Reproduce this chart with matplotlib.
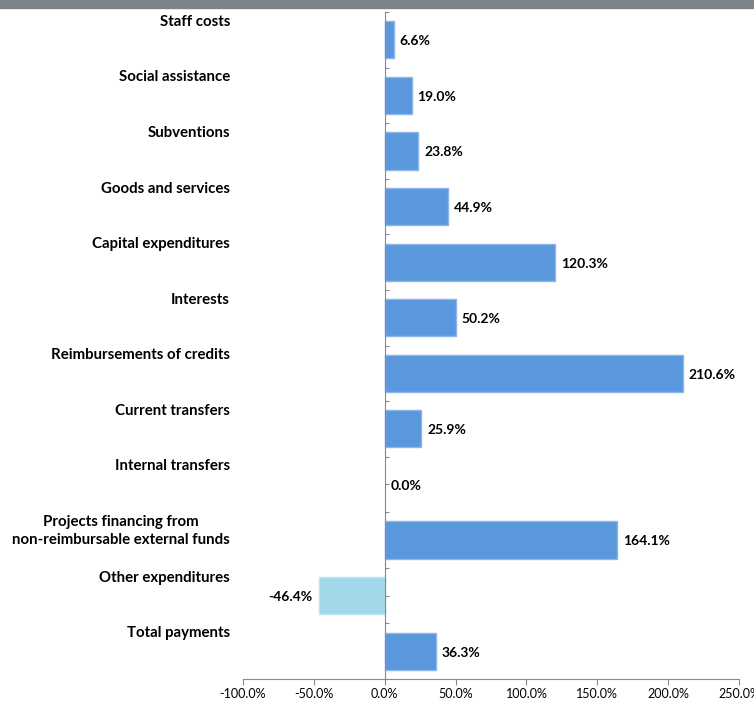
import numpy as np
import matplotlib
matplotlib.use("Agg")
import matplotlib.pyplot as plt
import matplotlib.transforms as mtransforms
from matplotlib.patches import Rectangle

plt.rcParams["font.family"] = ["Lato", "DejaVu Sans"]

categories = ["Staff costs", "Social assistance", "Subventions", "Goods and services",
              "Capital expenditures", "Interests", "Reimbursements of credits",
              "Current transfers", "Internal transfers",
              "Projects financing from\nnon-reimbursable external funds",
              "Other expenditures", "Total payments"]
values = [6.6, 19.0, 23.8, 44.9, 120.3, 50.2, 210.6, 25.9, 0.0, 164.1, -46.4, 36.3]
xticks = [-100, -50, 0, 50, 100, 150, 200, 250]

BLUE = "#5B97DD"
LIGHT = "#A2D8EA"

fig = plt.figure(figsize=(7.54, 7.01), dpi=100)
ax = fig.add_axes([243 / 754, 1 - 679 / 701, (739 - 243) / 754, (679 - 12) / 701])

# title band cut off at the top
fig.patches.append(Rectangle((0, 1 - 8 / 701), 1, 8 / 701, transform=fig.transFigure,
                             color="#7B838B", zorder=0))

n = len(categories)
ypos = np.arange(n) + 0.5
colors = [LIGHT if v < 0 else BLUE for v in values]
edges = ["none" if v == 0 else ("#BCE4F2" if v < 0 else "#8AB6EA") for v in values]
ax.barh(ypos, values, height=0.67, color=colors, edgecolor=edges, linewidth=1, zorder=2)

for y, v in zip(ypos, values):
    if v < 0:
        ax.annotate(f"{v:.1f}%", (v, y), xytext=(-5, -1), textcoords="offset points",
                    ha="right", va="center", fontsize=10, fontweight="bold")
    else:
        ax.annotate(f"{v:.1f}%", (v, y), xytext=(4, -1), textcoords="offset points",
                    ha="left", va="center", fontsize=10, fontweight="bold")

lab_tr = mtransforms.blended_transform_factory(fig.transFigure, ax.transData)
for i, c in enumerate(categories):
    ax.text(230 / 754, i + 0.05, c, transform=lab_tr, ha="right", va="top",
            multialignment="center", fontsize=10.8, fontweight="bold",
            linespacing=1.35, clip_on=False)

ax.set_xlim(-100, 250)
ax.set_ylim(n, 0)
ax.set_xticks(xticks)
ax.set_xticklabels([f"{t:.1f}%" for t in xticks], fontsize=9)
ax.set_yticks(np.arange(0, n + 0.01, 0.5))
ax.set_yticklabels([])

for s in ["top", "right"]:
    ax.spines[s].set_visible(False)
ax.spines["left"].set_position(("data", 0))
ax.spines["left"].set_color("#888888")
ax.spines["bottom"].set_color("#888888")
ax.tick_params(axis="y", direction="in", length=3, color="#888888")
ax.tick_params(axis="x", direction="out", length=4, color="#888888", pad=2.5)

fig.savefig("out.png", dpi=100)
